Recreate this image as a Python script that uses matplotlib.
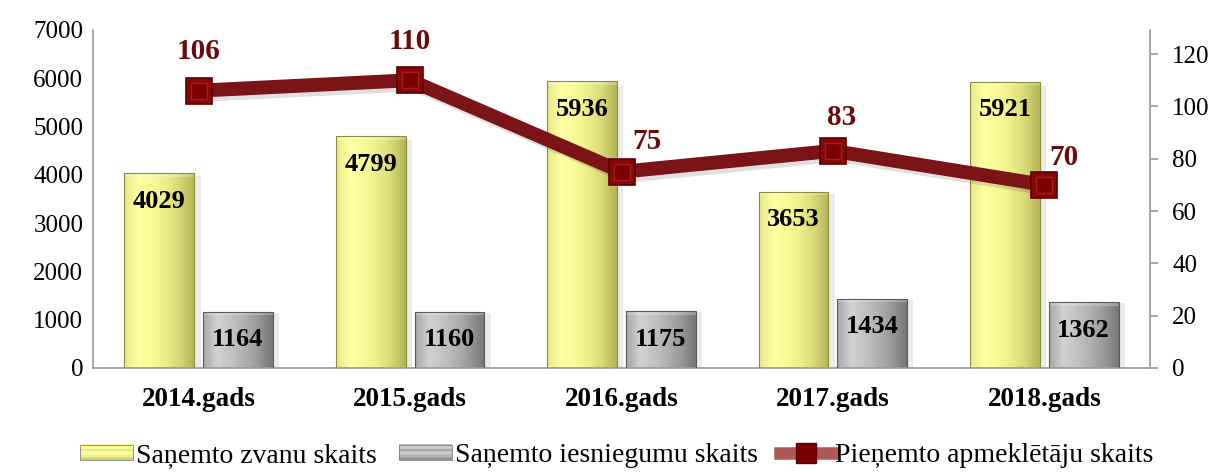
import numpy as np
import matplotlib
matplotlib.use("Agg")
import matplotlib.pyplot as plt
from matplotlib.colors import LinearSegmentedColormap
from matplotlib.patches import Rectangle
from matplotlib.lines import Line2D
import matplotlib.patheffects as pe

plt.rcParams['font.family'] = ['Liberation Serif', 'DejaVu Serif']

# data
years = ["2014.gads", "2015.gads", "2016.gads", "2017.gads", "2018.gads"]
zvani = [4029, 4799, 5936, 3653, 5921]          # Saņemto zvanu skaits
iesniegumi = [1164, 1160, 1175, 1434, 1362]     # Saņemto iesniegumu skaits
apmekletaji = [106, 110, 75, 83, 70]            # Pieņemto apmeklētāju skaits

lab_zvani = "Saņemto zvanu skaits"
lab_iesn = "Saņemto iesniegumu skaits"
lab_apm = "Pieņemto apmeklētāju skaits"

# colours
yellow_stops = ["#e8e88a", "#ffffa4", "#fafa98", "#ecec88", "#d8d876", "#b4b458"]
grey_stops = ["#a8a8a8", "#d2d2d2", "#c2c2c2", "#b0b0b0", "#989898", "#767676"]
line_col = "#7a1416"
lab_col = "#6b0a0a"

fig = plt.figure(figsize=(12.22, 4.72), dpi=100)
ax = fig.add_axes([93/1222, 104/472, 1057/1222, 338/472])
ax2 = ax.twinx()

x = np.arange(len(years))
bw = 0.33
off = 0.186


def grad_bars(bars, stops):
    cmap = LinearSegmentedColormap.from_list("g", stops)
    g = np.linspace(0, 1, 64).reshape(1, -1)
    for b in bars:
        bx, by = b.get_x(), b.get_y()
        w, h = b.get_width(), b.get_height()
        # soft shadow to the right
        ax.add_patch(Rectangle((bx + w, by), 0.03, h * 0.985, facecolor="#000000",
                               alpha=0.08, lw=0, zorder=1))
        im = ax.imshow(g, cmap=cmap, extent=[bx, bx + w, by, by + h],
                       aspect="auto", zorder=2, interpolation="bicubic")
        im.set_clip_path(b)
        # top bevel
        ax.add_patch(Rectangle((bx, by + h - 70), w, 70, facecolor="#ffffff",
                               alpha=0.25, lw=0, zorder=3))
        b.set_facecolor("none")


b1 = ax.bar(x - off, zvani, bw, edgecolor="#8c8c3c", linewidth=0.8, zorder=4)
b2 = ax.bar(x + off, iesniegumi, bw, edgecolor="#5a5a5a", linewidth=0.8, zorder=4)
grad_bars(b1, yellow_stops)
grad_bars(b2, grey_stops)

for xi, v in zip(x, zvani):
    ax.annotate(str(v), (xi - off, v), xytext=(0, -20), textcoords="offset points",
                ha="center", va="center", fontsize=19, fontweight="bold", zorder=6)
for xi, v in zip(x, iesniegumi):
    ax.annotate(str(v), (xi + off, v), xytext=(0, -20), textcoords="offset points",
                ha="center", va="center", fontsize=19, fontweight="bold", zorder=6)

ax.set_xlim(-0.5, len(years) - 0.5)
ax.set_ylim(0, 7000)
ax.set_yticks(range(0, 7001, 1000))
ax.set_xticks(x)
ax.set_xticklabels(years, fontsize=19.5, fontweight="bold")
ax.tick_params(axis="x", length=0, pad=14)
ax.tick_params(axis="y", length=0, pad=7, labelsize=18)
for s in ["top", "right"]:
    ax.spines[s].set_visible(False)
for s in ["left", "bottom"]:
    ax.spines[s].set_color("#a0a0a0")
    ax.spines[s].set_linewidth(1.3)

# line on the secondary axis
ax2.plot(x, apmekletaji, color=line_col, lw=10, solid_capstyle="butt", zorder=3,
         path_effects=[pe.SimpleLineShadow(offset=(3, -3), alpha=0.12), pe.Normal()])
ax2.plot(x, apmekletaji, linestyle="none", marker="s", ms=19, mfc="#8a0606",
         mec="#5a0000", mew=1.2, zorder=4)
ax2.plot(x, apmekletaji, linestyle="none", marker="s", ms=12, mfc="#7a0000",
         mec="#a02020", mew=1.0, zorder=5)
label_off = [(0, 28), (0, 28), (18, 22), (6, 24), (14, 20)]
for xi, v, o in zip(x, apmekletaji, label_off):
    ax2.annotate(str(v), (xi, v), xytext=o, textcoords="offset points",
                 ha="center", va="center", fontsize=21, fontweight="bold",
                 color=lab_col, zorder=6)

ax2.set_ylim(0, 129.2)
ax2.set_yticks(range(0, 121, 20))
ax2.tick_params(axis="y", direction="out", length=6, width=1.3, color="#a0a0a0",
                pad=10, labelsize=18)
for s in ["top", "left", "bottom"]:
    ax2.spines[s].set_visible(False)
ax2.spines["right"].set_color("#a0a0a0")
ax2.spines["right"].set_linewidth(1.3)


class GradHandler:
    def __init__(self, stops):
        self.stops = stops

    def legend_artist(self, legend, orig_handle, fontsize, handlebox):
        x0, y0 = -handlebox.xdescent, -handlebox.ydescent
        w, h = handlebox.width, handlebox.height
        cmap = LinearSegmentedColormap.from_list("g", self.stops)
        n = 10
        for i in range(n):
            t = 1 - abs((i + 0.5) / n - 0.65) * 1.4
            r = Rectangle((x0, y0 + i * h / n), w, h / n + 0.3,
                          facecolor=cmap(1 - max(0, min(1, t))), lw=0,
                          transform=handlebox.get_transform())
            handlebox.add_artist(r)
        edge = Rectangle((x0, y0), w, h, facecolor="none", edgecolor="#808080", lw=0.6,
                         transform=handlebox.get_transform())
        handlebox.add_artist(edge)
        return edge


h1 = Rectangle((0, 0), 1, 1, label=lab_zvani)
h2 = Rectangle((0, 0), 1, 1, label=lab_iesn)
h3 = Line2D([], [], color="#b05858", lw=9, marker="s", ms=15, mfc="#7a0000",
            mec="#5a0000", label=lab_apm)
fig.legend([h1, h2, h3], [lab_zvani, lab_iesn, lab_apm], loc="center",
           bbox_to_anchor=(0.505, 0.035), ncol=3, frameon=False, fontsize=20,
           handlelength=1.9, handleheight=0.45, handletextpad=0.1, columnspacing=0.8,
           handler_map={h1: GradHandler(yellow_stops), h2: GradHandler(grey_stops)})

fig.savefig("out.png", dpi=100)
